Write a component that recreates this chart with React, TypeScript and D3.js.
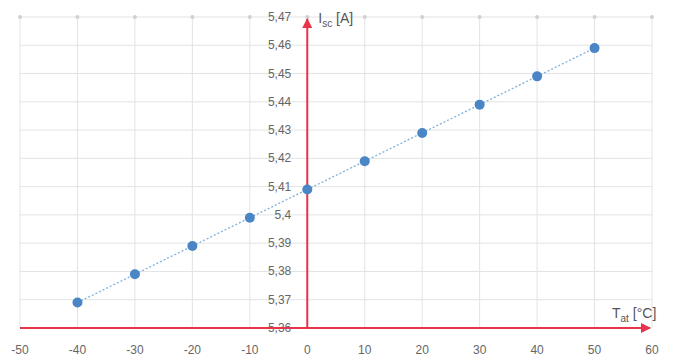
import React, { useRef, useEffect } from "react";
import * as d3 from "d3";

// temperature [°C] and short-circuit current [A]
const temps = [-40, -30, -20, -10, 0, 10, 20, 30, 40, 50];
const isc = [5.369, 5.379, 5.389, 5.399, 5.409, 5.419, 5.429, 5.439, 5.449, 5.459];
const xTicks = [-50, -40, -30, -20, -10, 0, 10, 20, 30, 40, 50, 60];
const yTicks = [5.36, 5.37, 5.38, 5.39, 5.4, 5.41, 5.42, 5.43, 5.44, 5.45, 5.46, 5.47];

export default function App() {
  const ref = useRef<SVGSVGElement>(null);

  useEffect(() => {
    const W = 673, H = 360;
    const svg = d3.select(ref.current).html("");
    const x = d3.scaleLinear().domain([-50, 60]).range([20, 652]);
    const y = d3.scaleLinear().domain([5.36, 5.47]).range([328, 17]);
    const fmt = (v: number) => String(+v.toFixed(2)).replace(".", ",");

    // grid
    const grid = svg.append("g");
    grid.selectAll(".vg").data(xTicks).enter().append("line")
      .attr("x1", d => x(d)).attr("x2", d => x(d))
      .attr("y1", y(5.47)).attr("y2", y(5.36))
      .attr("stroke", "#e3e3e3").attr("stroke-width", 1);
    grid.selectAll(".hg").data(yTicks).enter().append("line")
      .attr("x1", x(-50)).attr("x2", x(60))
      .attr("y1", d => y(d)).attr("y2", d => y(d))
      .attr("stroke", "#e3e3e3").attr("stroke-width", 1);
    // little tick marks on top edge
    grid.selectAll(".tt").data(xTicks).enter().append("circle")
      .attr("cx", d => x(d)).attr("cy", y(5.47)).attr("r", 2)
      .attr("fill", "#d0d0d0");

    // y tick labels
    svg.append("g").selectAll("text").data(yTicks).enter().append("text")
      .attr("x", x(0) - 16).attr("y", d => y(d) + 4)
      .attr("text-anchor", "end")
      .style("font", "12px 'Liberation Sans', Arial, sans-serif")
      .attr("fill", "#666")
      .text(d => fmt(d));

    // x tick labels
    svg.append("g").selectAll("text").data(xTicks).enter().append("text")
      .attr("x", d => x(d)).attr("y", 354)
      .attr("text-anchor", "middle")
      .style("font", "12px 'Liberation Sans', Arial, sans-serif")
      .attr("fill", "#666")
      .text(d => d);

    // axes (red arrows)
    const defs = svg.append("defs");
    defs.append("marker").attr("id", "arr").attr("viewBox", "0 0 10 10")
      .attr("refX", 9).attr("refY", 5).attr("markerWidth", 5).attr("markerHeight", 5)
      .attr("orient", "auto")
      .append("path").attr("d", "M0,0 L10,5 L0,10 z").attr("fill", "#e8334a");
    svg.append("line")
      .attr("x1", x(-50)).attr("x2", x(60) - 2)
      .attr("y1", y(5.36)).attr("y2", y(5.36))
      .attr("stroke", "#e8334a").attr("stroke-width", 2).attr("marker-end", "url(#arr)");
    svg.append("line")
      .attr("x1", x(0)).attr("x2", x(0))
      .attr("y1", y(5.36)).attr("y2", y(5.47) + 2)
      .attr("stroke", "#e8334a").attr("stroke-width", 2).attr("marker-end", "url(#arr)");

    // dotted trend line
    const line = d3.line<number>().x((d, i) => x(temps[i])).y(d => y(d));
    svg.append("path").datum(isc).attr("d", line)
      .attr("fill", "none").attr("stroke", "#7fb0dc").attr("stroke-width", 1.3)
      .attr("stroke-dasharray", "2,2");

    // points
    svg.append("g").selectAll("circle").data(isc).enter().append("circle")
      .attr("cx", (d, i) => x(temps[i])).attr("cy", d => y(d)).attr("r", 5)
      .attr("fill", "#4a86c5");

    // axis titles
    const t1 = svg.append("text").attr("x", x(0) + 11).attr("y", 23)
      .style("font", "14px 'Liberation Sans', Arial, sans-serif").attr("fill", "#555");
    t1.append("tspan").text("I");
    t1.append("tspan").attr("dy", 4).style("font-size", "10px").text("sc");
    t1.append("tspan").attr("dy", -4).text(" [A]");

    const t2 = svg.append("text").attr("x", 612).attr("y", 318)
      .style("font", "14px 'Liberation Sans', Arial, sans-serif").attr("fill", "#555");
    t2.append("tspan").text("T");
    t2.append("tspan").attr("dy", 4).style("font-size", "10px").text("at");
    t2.append("tspan").attr("dy", -4).text(" [°C]");
    void W; void H;
  }, []);

  return (
    <svg ref={ref} width={673} height={360}
      style={{ position: "absolute", left: 0, top: 0, background: "#fff" }} />
  );
}
